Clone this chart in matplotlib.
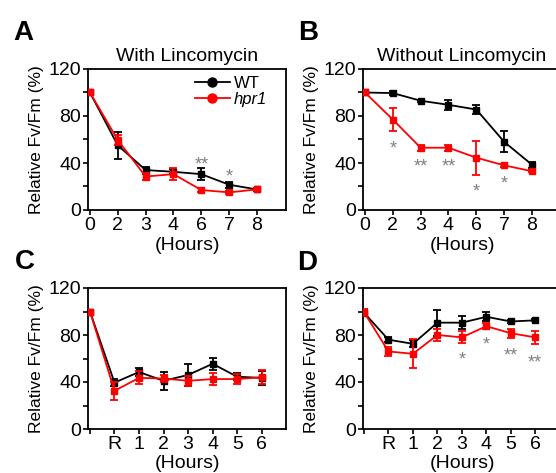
import matplotlib
matplotlib.use('Agg')
import matplotlib.pyplot as plt
from matplotlib.lines import Line2D
from matplotlib.ticker import MultipleLocator

plt.rcParams['font.family'] = ['Liberation Sans', 'DejaVu Sans']

# A / B : time course (hours)
hours_ab = ['0', '2', '3', '4', '6', '7', '8']
a_wt = [100, 55, 34, 32.5, 30.5, 21.5, 17.5]
a_wt_err = [0, 11.5, 3, 2, 5, 2.5, 1]
a_hpr = [100, 59.5, 28.5, 30.5, 17, 15, 17.5]
a_hpr_err = [0, 4, 3, 5, 1.5, 1, 1]

b_wt = [100, 99.5, 93, 89.5, 85.5, 58, 38.5]
b_wt_err = [0, 1.5, 1, 4.5, 4, 9, 2.5]
b_hpr = [100, 77, 53, 53, 44.5, 38, 33]
b_hpr_err = [0, 10, 2.5, 2.5, 14.5, 1.5, 1]

# C / D : recovery
hours_cd = ['', 'R', '1', '2', '3', '4', '5', '6']
c_wt = [100, 39.5, 48.5, 41, 46, 55.5, 44.5, 43.5]
c_wt_err = [0, 3, 3, 7.5, 9, 5, 3, 6]
c_hpr = [100, 32.5, 43.5, 43, 41, 42.5, 42.5, 44]
c_hpr_err = [1, 7.5, 5.5, 3, 4, 5, 4, 6]

d_wt = [99, 76, 72.5, 90.5, 90.5, 95.5, 91.5, 92.5]
d_wt_err = [1, 2, 3, 11, 5.5, 4, 1, 1]
d_hpr = [99.5, 66, 64, 80, 78, 87.5, 81.5, 78]
d_hpr_err = [3, 3.5, 12.5, 5, 5, 2.5, 4, 5.5]

# significance marks (index, height, text)
a_star_i = [4, 5]
a_star_y = [43, 32.5]
a_star_t = ['**', '*']
b_star_i = [1, 2, 3, 4, 5]
b_star_y = [56, 41, 41, 19.5, 26.5]
b_star_t = ['*', '**', '**', '*', '*']
d_star_i = [4, 5, 6, 7]
d_star_y = [63, 76, 67, 61]
d_star_t = ['*', '*', '**', '**']

W, H = 556, 473
fig = plt.figure(figsize=(W / 100, H / 100), dpi=100)


def panel(rect, labels, wt, wt_err, hpr, hpr_err, xlim, title=None, xpad=1.5):
    ax = fig.add_axes([rect[0] / W, 1 - rect[3] / H, (rect[2] - rect[0]) / W,
                       (rect[3] - rect[1]) / H])
    x = list(range(len(labels)))
    ax.errorbar(x, wt, yerr=wt_err, color='black', marker='s', ms=4.5, lw=1.3,
                elinewidth=1.3, capsize=2.8, capthick=1.3, zorder=3)
    ax.errorbar(x, hpr, yerr=hpr_err, color='#ff0000', marker='s', ms=4.5, lw=1.3,
                elinewidth=1.3, capsize=2.8, capthick=1.3, zorder=4)
    ax.set_xlim(*xlim)
    ax.set_ylim(0, 120)
    ax.set_xticks(x)
    ax.set_xticklabels(labels)
    ax.yaxis.set_major_locator(MultipleLocator(40))
    ax.yaxis.set_minor_locator(MultipleLocator(20))
    ax.tick_params(which='both', direction='out', length=3.5, width=1.2,
                   labelsize=14, pad=1.5)
    for s in ax.spines.values():
        s.set_linewidth(1.3)
    ax.set_ylabel('Relative Fv/Fm (%)', fontsize=12.5, labelpad=3)
    ax.set_xlabel('(Hours)', fontsize=14, labelpad=xpad)
    if title:
        ax.set_title(title, fontsize=14, pad=6)
    return ax


def stars(ax, idx, ys, txt):
    for i, y, t in zip(idx, ys, txt):
        ax.annotate(t, (i, y), xytext=(0, -7), textcoords='offset points',
                    ha='center', va='baseline', fontsize=13, color='#808080')


ax_a = panel((88, 69, 286, 210), hours_ab, a_wt, a_wt_err, a_hpr, a_hpr_err,
             (-0.07, 7.04), 'With Lincomycin', xpad=2.5)
ax_b = panel((363, 69, 561, 210), hours_ab, b_wt, b_wt_err, b_hpr, b_hpr_err,
             (-0.07, 7.04), 'Without Lincomycin', xpad=2.5)
ax_c = panel((88, 288, 286, 429), hours_cd, c_wt, c_wt_err, c_hpr, c_hpr_err,
             (-0.08, 7.99), xpad=1.5)
ax_d = panel((363, 288, 561, 429), hours_cd, d_wt, d_wt_err, d_hpr, d_hpr_err,
             (-0.04, 8.05), xpad=1.5)

stars(ax_a, a_star_i, a_star_y, a_star_t)
stars(ax_b, b_star_i, b_star_y, b_star_t)
stars(ax_d, d_star_i, d_star_y, d_star_t)

handles = [Line2D([0], [0], color='black', marker='o', ms=6.5, lw=1.3),
           Line2D([0], [0], color='#ff0000', marker='o', ms=6.5, lw=1.3)]
leg = ax_a.legend(handles, ['WT', 'hpr1'], loc='upper left', bbox_to_anchor=(0.54, 0.95),
                  frameon=False, fontsize=12, handlelength=2.1, handletextpad=0.25,
                  labelspacing=0.05, borderpad=0, borderaxespad=0)
leg.get_texts()[1].set_fontstyle('italic')

for lab, px, py in [('A', 13, 40), ('B', 298, 40), ('C', 15, 269), ('D', 297, 270)]:
    fig.text(px / W, 1 - py / H, lab, fontsize=20, fontweight='bold',
             ha='left', va='baseline')

fig.savefig('out.png', dpi=100)
